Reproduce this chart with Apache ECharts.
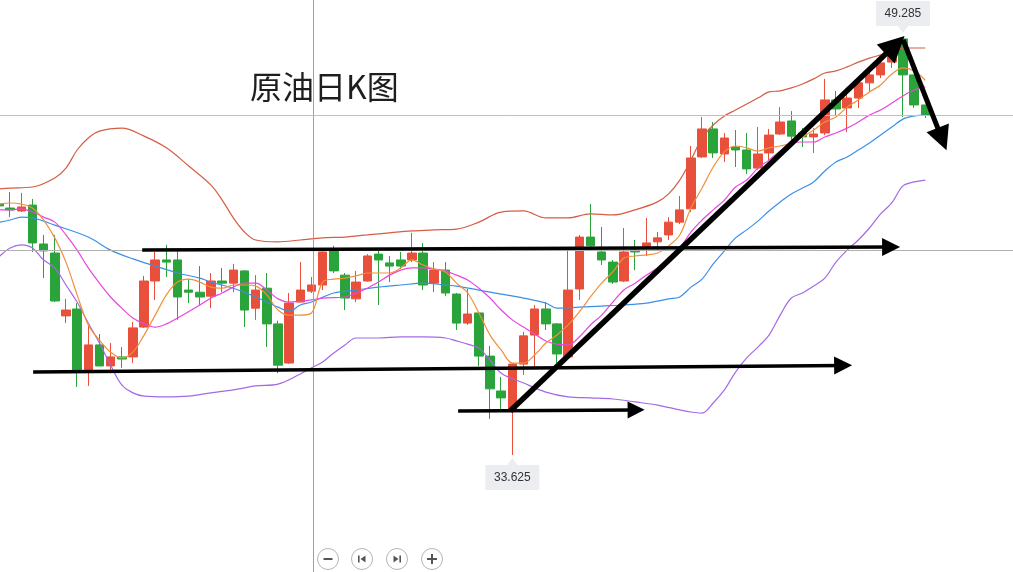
<!DOCTYPE html>
<html>
<head>
<meta charset="utf-8">
<script src="https://cdn.jsdelivr.net/npm/echarts@6/dist/echarts.min.js"></script>
<style>
html,body{margin:0;padding:0;background:#fff;}
#c{width:1013px;height:572px;}
</style>
</head>
<body>
<div id="c"></div>
<script>
// ---- data ----
const titleText = '原油日K图';
const categories = [];
for (let i = 0; i < 92; i++) categories.push('D' + (i + 1));

// [open, close, low, high]
const candles = [
[43.05,42.98,42.68,43.35],[42.90,42.83,42.56,43.50],[42.79,42.94,42.75,43.47],[43.01,41.59,41.25,43.24],
[41.55,41.29,40.27,41.89],[41.21,39.41,39.37,41.89],[38.85,39.07,38.58,39.49],[39.11,36.78,36.18,39.33],
[36.78,37.76,36.22,38.47],[37.76,36.97,36.97,38.17],[36.97,37.31,36.70,37.83],[37.31,37.23,36.90,37.68],
[37.31,38.40,37.08,38.62],[38.43,40.16,38.40,40.35],[40.16,40.95,39.45,41.25],[40.95,40.87,40.31,41.52],
[40.95,39.56,38.70,41.29],[39.82,39.74,39.33,40.23],[39.74,39.56,39.26,40.72],[39.59,40.16,39.14,40.46],
[40.16,40.08,39.74,40.65],[40.08,40.57,39.74,40.80],[40.54,39.07,38.43,40.56],[39.14,39.82,38.70,40.38],
[39.89,38.55,37.68,40.46],[38.55,37.00,36.70,38.67],[37.08,39.33,37.05,39.71],[39.37,39.82,39.35,40.87],
[39.78,40.01,39.71,40.31],[40.01,41.25,39.82,41.27],[41.29,40.54,40.46,41.48],[40.38,39.52,39.07,40.46],
[39.49,40.12,39.37,40.54],[40.16,41.10,40.14,41.17],[41.17,40.95,39.26,41.36],[40.84,40.72,40.12,41.10],
[40.95,40.72,40.61,41.25],[40.95,41.21,40.87,41.97],[41.21,40.01,39.82,41.59],[40.08,40.57,39.74,40.87],
[40.57,39.71,39.59,40.87],[39.67,38.58,38.32,39.71],[38.58,38.92,38.51,39.86],[38.96,37.34,36.97,38.98],
[37.34,36.11,34.98,37.72],[36.03,35.77,35.24,36.56],[35.28,37.04,33.625,37.08],[37.04,38.10,36.63,38.25],
[38.13,39.11,36.93,39.26],[39.11,38.55,38.32,39.37],[38.55,37.42,37.08,38.58],[37.31,39.82,37.28,41.32],
[39.86,41.81,39.45,41.89],[41.81,41.48,41.32,43.05],[41.25,40.95,40.76,42.19],[40.87,40.12,40.05,40.95],
[40.16,41.25,40.12,42.15],[41.32,41.25,40.57,41.70],[41.40,41.59,41.10,42.53],[41.63,41.78,41.32,42.00],
[41.89,42.37,41.70,42.56],[42.37,42.83,42.30,43.35],[42.87,44.78,42.75,45.23],[44.82,45.87,44.78,46.32],
[45.87,44.97,44.78,46.13],[44.93,45.53,44.63,45.72],[45.19,45.08,44.44,45.83],[45.08,44.37,44.18,45.72],
[44.40,44.93,44.33,45.94],[44.97,45.64,44.70,45.87],[45.68,46.13,45.64,46.69],[46.17,45.60,45.46,46.54],
[45.72,45.57,45.19,45.90],[45.57,45.68,44.97,45.90],[45.72,46.96,45.64,47.75],[46.96,46.62,46.39,47.30],
[46.66,47.03,45.75,47.41],[47.03,47.60,46.66,47.67],[47.60,47.90,47.26,47.97],[47.90,48.35,47.78,48.46],
[48.38,48.76,48.16,48.83],[49.25,47.90,46.32,49.285],[47.90,46.77,46.66,47.90],[46.77,46.39,46.28,46.77]
];

// [category index, value]
const bollUpper = [[0,43.62],[1,43.65],[3,43.69],[5,44.03],[6,44.40],[7,45.08],[8,45.53],[9,45.79],[11,45.90],[13,45.60],[15,45.16],
[17,44.48],[19,43.76],[20,43.20],[21,42.53],[22,42.00],[23,41.70],[25,41.63],[27,41.70],[29,41.78],[31,41.81],[33,41.89],
[35,41.97],[37,42.04],[39,42.08],[41,42.11],[43,42.37],[45,42.75],[47,42.79],[49,42.53],[51,42.53],[53,42.68],[55,42.64],
[57,42.83],[59,43.13],[60,43.43],[61,43.95],[62,44.70],[63,45.53],[64,46.02],[65,46.36],[66,46.58],[67,46.81],[68,47.03],
[69,47.26],[70,47.30],[71,47.41],[72,47.56],[73,47.75],[74,47.97],[75,48.05],[76,48.20],[77,48.38],[78,48.53],[79,48.65],
[80,48.76],[81,48.91],[82,48.91],[83,48.91]];
const bollLower = [[0,41.07],[1,41.40],[2,41.52],[3,41.40],[4,40.95],[5,40.65],[6,40.01],[7,39.37],[8,38.58],[9,37.83],[10,37.00],
[11,36.26],[12,35.96],[13,35.84],[15,35.81],[17,35.84],[19,35.96],[21,36.07],[23,36.22],[25,36.29],[27,36.67],[28,36.90],
[29,37.12],[30,37.46],[31,37.76],[32,38.02],[34,38.02],[36,38.06],[38,38.06],[40,38.02],[41,37.91],[42,37.79],[43,37.64],
[44,37.19],[45,36.70],[47,36.33],[49,35.99],[51,35.81],[53,35.77],[55,35.73],[57,35.62],[59,35.50],[61,35.32],[62,35.24],
[63,35.20],[64,35.58],[65,36.07],[66,36.74],[67,37.27],[68,37.68],[69,38.13],[70,38.88],[71,39.52],[72,39.71],[73,39.97],
[74,40.27],[75,40.87],[76,41.32],[77,41.70],[78,42.15],[79,42.68],[80,43.09],[81,43.73],[82,43.88],[83,43.95]];
const ma20 = [[0,42.36],[1,42.45],[2,42.56],[3,42.53],[5,42.26],[8,41.81],[10,41.32],[12,40.99],[14,40.72],[16,40.46],[18,40.27],
[19,40.12],[21,39.89],[23,39.56],[25,39.18],[26,39.03],[27,39.26],[28,39.37],[30,39.71],[32,39.82],[34,39.93],[36,40.01],
[38,40.08],[40,40.01],[41,39.97],[43,39.82],[45,39.67],[47,39.52],[49,39.33],[50,39.14],[52,39.18],[54,39.22],[56,39.26],
[58,39.33],[60,39.49],[61,39.56],[62,39.93],[63,40.23],[64,40.80],[65,41.29],[66,41.78],[67,42.08],[68,42.41],[69,42.79],
[70,43.13],[71,43.43],[72,43.65],[73,43.88],[74,44.29],[75,44.63],[76,44.82],[77,45.08],[78,45.34],[79,45.64],[80,45.94],
[81,46.24],[82,46.36],[83,46.39]];
const ma10 = [[0,42.83],[1,42.83],[2,42.87],[3,42.75],[4,42.56],[5,42.37],[6,41.89],[7,41.32],[8,40.65],[9,40.08],[10,39.56],
[11,39.14],[12,38.77],[13,38.55],[14,38.43],[15,38.55],[16,38.77],[18,39.26],[19,39.52],[20,39.71],[21,39.93],[22,40.08],
[23,40.08],[24,39.82],[25,39.49],[26,39.37],[28,39.45],[29,39.52],[31,39.56],[32,39.71],[33,39.89],[34,40.12],[35,40.38],
[36,40.57],[37,40.65],[38,40.65],[39,40.61],[40,40.54],[41,40.38],[42,40.20],[43,39.89],[44,39.52],[45,39.07],[46,38.70],
[47,38.43],[48,38.17],[49,37.91],[50,37.79],[51,37.76],[52,38.06],[53,38.51],[54,38.88],[55,39.37],[56,39.82],[57,40.08],
[58,40.38],[59,40.65],[60,41.02],[61,41.40],[62,42.00],[63,42.45],[64,42.83],[65,43.20],[66,43.69],[67,43.95],[68,44.40],
[69,44.70],[70,45.04],[71,45.34],[72,45.38],[73,45.38],[74,45.57],[75,45.72],[76,45.90],[77,46.13],[78,46.39],[79,46.58],
[80,46.84],[81,47.11],[82,47.33],[83,47.45]];
const ma5 = [[0,43.05],[1,43.09],[2,43.05],[3,42.90],[4,42.45],[5,41.78],[6,40.87],[7,39.64],[8,38.51],[9,37.94],[10,37.49],
[11,37.27],[12,37.49],[13,38.13],[14,38.88],[15,39.64],[16,40.12],[17,40.23],[18,40.12],[19,39.93],[20,39.89],[21,40.01],
[22,40.01],[23,39.97],[24,39.64],[25,39.07],[26,38.88],[27,38.88],[28,38.96],[29,40.12],[30,40.23],[31,40.27],[32,40.35],
[33,40.46],[34,40.46],[35,40.46],[36,40.65],[37,40.95],[38,40.76],[39,40.61],[40,40.50],[41,40.08],[42,39.71],[43,38.96],
[44,38.13],[45,37.57],[46,37.08],[47,37.08],[48,37.38],[49,37.83],[50,38.13],[51,38.51],[52,39.00],[53,39.56],[54,40.08],
[55,40.50],[56,41.02],[57,41.10],[58,41.14],[59,41.21],[60,41.48],[61,41.89],[62,42.90],[63,43.65],[64,44.44],[65,45.01],
[66,45.23],[67,45.16],[68,45.04],[69,45.16],[70,45.23],[71,45.34],[72,45.57],[73,45.83],[74,46.13],[75,46.32],[76,46.69],
[77,46.96],[78,47.26],[79,47.52],[80,47.93],[81,48.16],[82,48.05],[83,47.70]];

// extreme labels
const highPoint = {index: 81, value: 49.285};
const lowPoint = {index: 46, value: 33.625};

// hand-drawn arrows: [startIndex, startPrice, endIndex, endPrice]
const arrows = [
  [12.83, 41.32, 79.94, 41.44],
  [3.06, 36.74, 75.64, 36.99],
  [41.14, 35.28, 57.09, 35.32],
  [45.80, 35.28, 80.30, 49.02],
  [81.02, 49.21, 84.51, 45.49]
];
const arrowWidths = [3.5, 3.5, 3.5, 5.5, 5];
const arrowHeads = [18, 18, 17, 26, 24];
// crosshair / price lines
const crossX = 28.15;
const lastPrice = 46.39;
const crossY = 41.32;

// ---- chart ----
const chart = echarts.init(document.getElementById('c'));
const pairs = a => a.map(d => [d[0], d[1]]);
const lineSeries = (name, data, color) => ({
  name, type: 'line', data: pairs(data), smooth: 0.35, showSymbol: false, symbol: 'none',
  lineStyle: {width: 1.2, color}, itemStyle: {color}, z: 3, silent: true
});
const calloutDown = 'path://M0,0 H54 V25 H32 L27,32 L22,25 H0 Z';
const calloutUp = 'path://M0,7 H22 L27,0 L32,7 H54 V32 H0 Z';

const option = {
  animation: false,
  backgroundColor: '#ffffff',
  title: {
    text: titleText, left: 245, top: 66,
    textStyle: {fontSize: 32, fontWeight: 'normal', color: '#1e1e1e', fontFamily: 'Noto Sans CJK SC'}
  },
  grid: {left: -6.58, width: 1026.7, top: 0, bottom: 0, containLabel: false, outerBoundsMode: 'none'},
  xAxis: [
    {type: 'category', data: categories, boundaryGap: true, show: false},
    {type: 'value', min: -0.5, max: 91.5, show: false}
  ],
  yAxis: {type: 'value', min: 29.233, max: 50.712, show: false, splitLine: {show: false}},
  series: [
    {
      type: 'candlestick', data: candles, barWidth: 9,
      itemStyle: {color: '#e9503b', color0: '#2aa43a', borderColor: '#e9503b', borderColor0: '#2aa43a', borderWidth: 1},
      z: 2,
      markPoint: {
        silent: true,
        data: [
          {coord: [categories[highPoint.index], highPoint.value], value: highPoint.value,
           symbol: calloutDown, symbolSize: [54, 32], symbolOffset: [0, -21],
           itemStyle: {color: '#ebedf0'},
           label: {show: true, offset: [0, -3.5], color: '#333', fontSize: 12, fontFamily: 'Liberation Sans'}},
          {coord: [categories[lowPoint.index], lowPoint.value], value: lowPoint.value,
           symbol: calloutUp, symbolSize: [54, 32], symbolOffset: [0, 19],
           itemStyle: {color: '#ebedf0'},
           label: {show: true, offset: [0, 3.5], color: '#333', fontSize: 12, fontFamily: 'Liberation Sans'}}
        ]
      }
    },
    lineSeries('BOLL UP', bollUpper, '#d65c44'),
    lineSeries('BOLL DN', bollLower, '#a36ae6'),
    lineSeries('MA20', ma20, '#3d8fe6'),
    lineSeries('MA10', ma10, '#e845e0'),
    lineSeries('MA5', ma5, '#f2903a'),
    {
      type: 'line', xAxisIndex: 1, yAxisIndex: 0, data: [], z: 1, silent: true,
      markLine: {
        silent: true, symbol: 'none', animation: false,
        label: {show: false},
        data: [
          {xAxis: crossX, lineStyle: {color: '#a0a0a0', width: 1, type: 'solid'}},
          {yAxis: lastPrice, lineStyle: {color: '#9fd69f', width: 1, type: 'solid'}},
          {yAxis: crossY, lineStyle: {color: '#b0b0b0', width: 1, type: 'solid'}}
        ]
      }
    },
    {
      type: 'line', xAxisIndex: 1, yAxisIndex: 0, data: [], z: 10, silent: true,
      markLine: {
        silent: true, animation: false,
        symbol: ['none', 'triangle'],
        label: {show: false},
        emphasis: {disabled: true},
        data: arrows.map((a, k) => [
          {coord: [a[0], a[1]], lineStyle: {color: '#000', width: arrowWidths[k], type: 'solid'}},
          {coord: [a[2], a[3]], symbolSize: arrowHeads[k], itemStyle: {color: '#000'}}
        ])
      }
    }
  ],
  graphic: [
    {type: 'group', left: 317, top: 548, silent: true, children: [
      {type: 'circle', shape: {cx: 11, cy: 11, r: 10.5}, style: {fill: '#fff', stroke: '#b5b5b5', lineWidth: 1}},
      {type: 'line', shape: {x1: 6.5, y1: 11, x2: 15.5, y2: 11}, style: {stroke: '#555', lineWidth: 2}},
      {type: 'circle', shape: {cx: 45, cy: 11, r: 10.5}, style: {fill: '#fff', stroke: '#b5b5b5', lineWidth: 1}},
      {type: 'rect', shape: {x: 41, y: 7.5, width: 1.6, height: 7}, style: {fill: '#555'}},
      {type: 'polygon', shape: {points: [[48.5, 7.5], [48.5, 14.5], [43.5, 11]]}, style: {fill: '#555'}},
      {type: 'circle', shape: {cx: 80, cy: 11, r: 10.5}, style: {fill: '#fff', stroke: '#b5b5b5', lineWidth: 1}},
      {type: 'polygon', shape: {points: [[76.5, 7.5], [76.5, 14.5], [81.5, 11]]}, style: {fill: '#555'}},
      {type: 'rect', shape: {x: 82.4, y: 7.5, width: 1.6, height: 7}, style: {fill: '#555'}},
      {type: 'circle', shape: {cx: 115, cy: 11, r: 10.5}, style: {fill: '#fff', stroke: '#b5b5b5', lineWidth: 1}},
      {type: 'line', shape: {x1: 110, y1: 11, x2: 120, y2: 11}, style: {stroke: '#555', lineWidth: 2}},
      {type: 'line', shape: {x1: 115, y1: 6, x2: 115, y2: 16}, style: {stroke: '#555', lineWidth: 2}}
    ]}
  ]
};
chart.setOption(option);
</script>
</body>
</html>
